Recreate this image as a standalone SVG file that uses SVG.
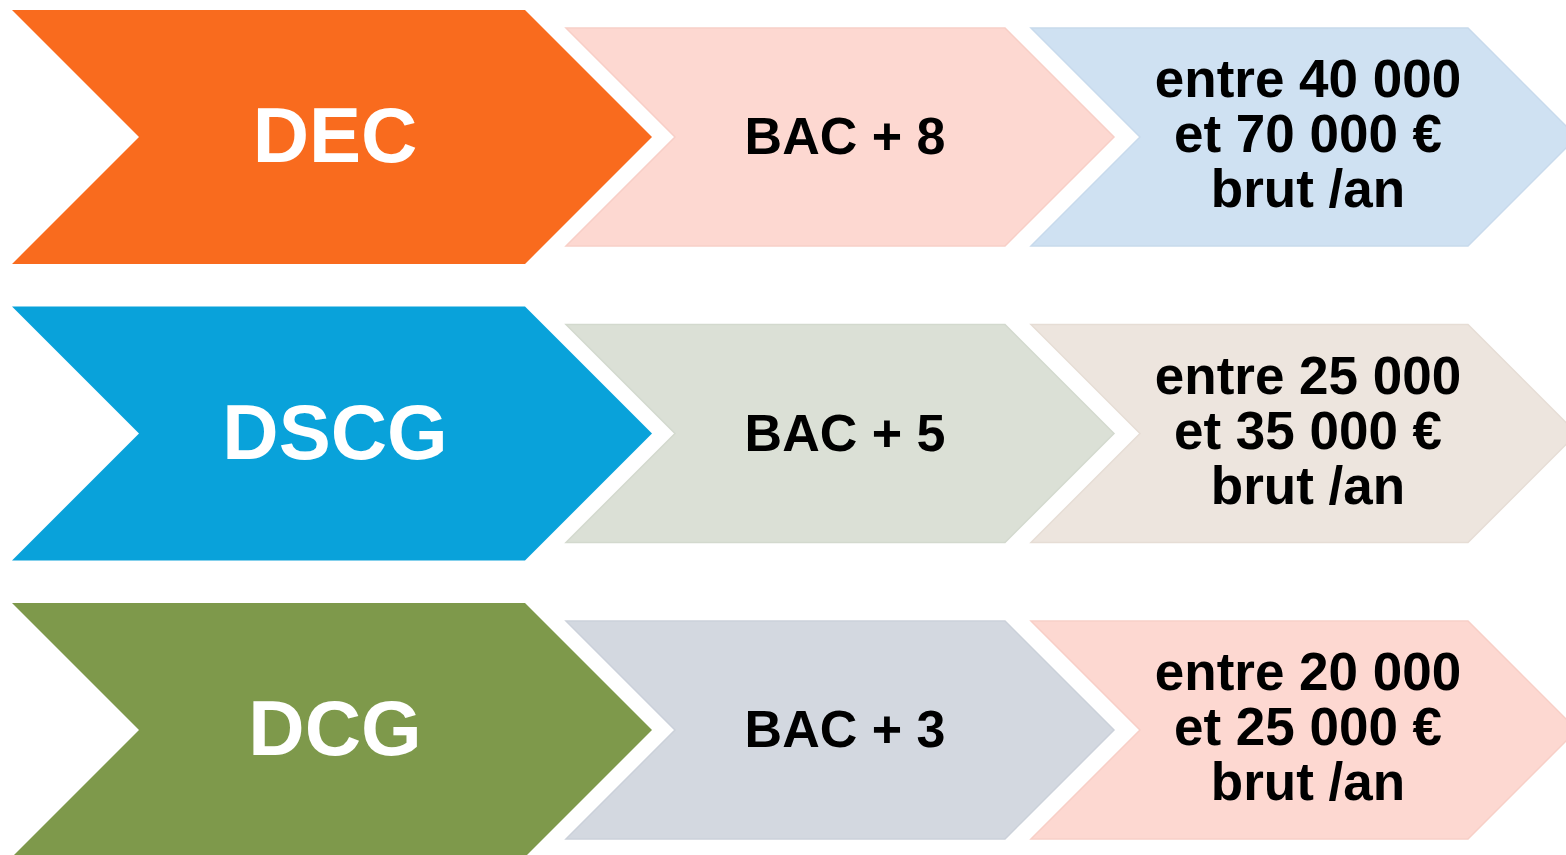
<svg xmlns="http://www.w3.org/2000/svg" width="1566" height="855" viewBox="0 0 1566 855">
<style>
.big{font-family:"Liberation Sans",Arial,sans-serif;font-weight:bold;font-size:78px;fill:#fff;text-anchor:middle}
.mid{font-family:"Liberation Sans",Arial,sans-serif;font-weight:bold;font-size:52px;fill:#000;text-anchor:middle}
.sal{font-family:"Liberation Sans",Arial,sans-serif;font-weight:bold;font-size:53px;fill:#000;text-anchor:middle}
.sm{stroke-width:1.5}
</style>
<defs>
<polygon id="c1" points="12,10 525,10 652,137 525,264 12,264 139,137"/>
<polygon id="c2" points="566,28 1005,28 1114,137 1005,246 566,246 675,137"/>
<polygon id="c3" points="1031,28 1468,28 1577,137 1468,246 1031,246 1140,137"/>
</defs>
<rect width="1566" height="855" fill="#fff"/>
<g id="row-dec">
<g id="dec"><use href="#c1" fill="#F96B1E"/><text class="big" x="335" y="162">DEC</text></g>
<g id="bac8"><use href="#c2" fill="#FDD8D1" stroke="#F8CFC7" class="sm"/><text class="mid" x="845" y="154">BAC + 8</text></g>
<g id="sal1"><use href="#c3" fill="#CFE1F2" stroke="#C8DAEC" class="sm"/><text class="sal" x="1308" y="97">entre 40 000</text><text class="sal" x="1308" y="152">et 70 000 €</text><text class="sal" x="1308" y="207">brut /an</text></g>
</g>
<g id="row-dscg" transform="translate(0,296.5)">
<g id="dscg"><use href="#c1" fill="#09A2DA"/><text class="big" x="335" y="162">DSCG</text></g>
<g id="bac5"><use href="#c2" fill="#DBE0D6" stroke="#D3D9CE" class="sm"/><text class="mid" x="845" y="154">BAC + 5</text></g>
<g id="sal2"><use href="#c3" fill="#EDE5DE" stroke="#E6DDD5" class="sm"/><text class="sal" x="1308" y="97">entre 25 000</text><text class="sal" x="1308" y="152">et 35 000 €</text><text class="sal" x="1308" y="207">brut /an</text></g>
</g>
<g id="row-dcg" transform="translate(0,593)">
<g id="dcg"><use href="#c1" fill="#7E994B"/><text class="big" x="335" y="162">DCG</text></g>
<g id="bac3"><use href="#c2" fill="#D3D8E0" stroke="#CBD1DA" class="sm"/><text class="mid" x="845" y="154">BAC + 3</text></g>
<g id="sal3"><use href="#c3" fill="#FDD8D1" stroke="#F8CFC7" class="sm"/><text class="sal" x="1308" y="97">entre 20 000</text><text class="sal" x="1308" y="152">et 25 000 €</text><text class="sal" x="1308" y="207">brut /an</text></g>
</g>
<g id="connectors"/>
</svg>
